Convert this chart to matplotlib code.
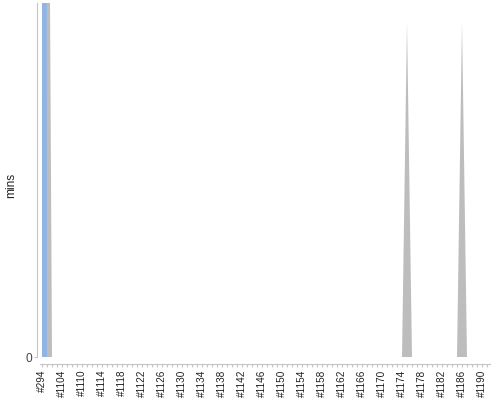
import matplotlib
matplotlib.use('Agg')
import matplotlib.pyplot as plt

# Builds on the x axis (#294, then the #11xx run with a few gaps)
builds = ['#294', '#1101', '#1102', '#1103', '#1104', '#1106', '#1107', '#1108'] + \
         ['#%d' % n for n in range(1110, 1192)]

# Build durations (mins) per result; most builds are ~0
success_mins = [60.0] + [0.0] * (len(builds) - 1)
aborted_mins = [0.0] * len(builds)
aborted_mins[1] = 1.4
aborted_mins[builds.index('#1175')] = 0.52
aborted_mins[builds.index('#1186')] = 0.52

y_top = 0.55
blue = '#92b4e2'
grey = '#bdbdbd'
axis_grey = '#c4c4c4'
text_col = '#444444'

plt.rcParams['font.family'] = ['Liberation Sans', 'DejaVu Sans']

fig = plt.figure(figsize=(5, 4), dpi=100)
ax = fig.add_axes([40 / 500, 43 / 400, 450 / 500, 354 / 400])

x = list(range(len(builds)))
ax.stackplot(x, success_mins, aborted_mins, colors=[blue, grey], linewidth=0)

ax.set_xlim(-0.4, len(builds) - 0.4)
ax.set_ylim(0, y_top)

# Axes look
for s in ['top', 'right']:
    ax.spines[s].set_visible(False)
ax.spines['left'].set_position(('outward', 2))
ax.spines['bottom'].set_position(('outward', 5))
ax.spines['left'].set_color(axis_grey)
ax.spines['bottom'].set_color(axis_grey)

ax.set_xticks(x)
ax.set_xticklabels([b if i % 4 == 0 else '' for i, b in enumerate(builds)],
                   rotation=90, fontsize=7.2, color='#222222')
ax.tick_params(axis='x', length=2, width=0.8, color=axis_grey, pad=2)

ax.set_yticks([0])
ax.set_yticklabels(['0'], fontsize=8.6, color=text_col)
ax.tick_params(axis='y', length=2, width=0.8, color=axis_grey, pad=2)

ax.set_ylabel('mins', fontsize=8.6, color='#222222')
ax.yaxis.set_label_coords(-0.051, 0.485)

plt.savefig('out.png', dpi=100)
